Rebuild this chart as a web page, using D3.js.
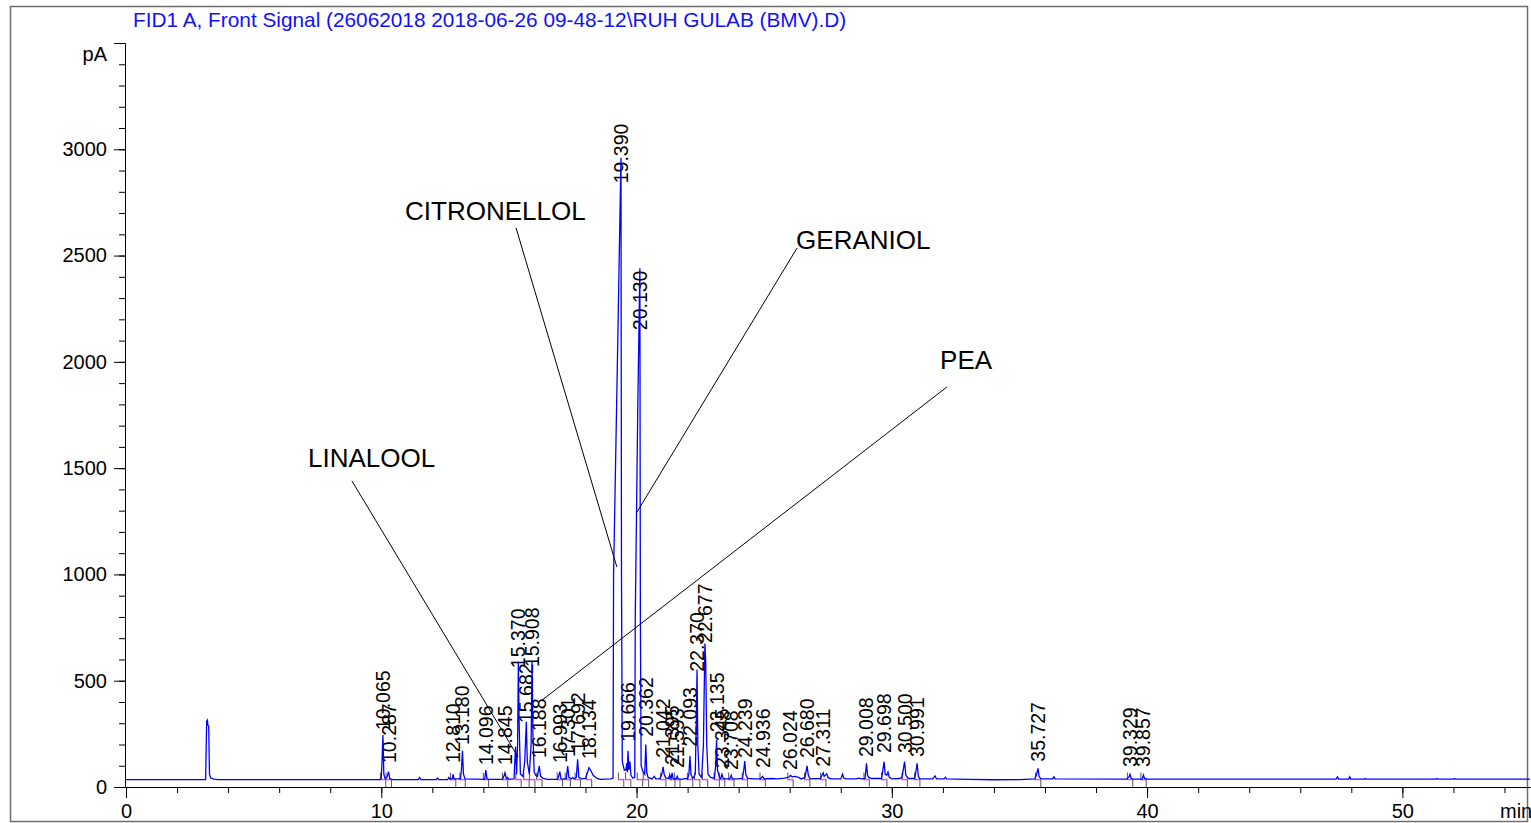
<!DOCTYPE html>
<html>
<head>
<meta charset="utf-8">
<script src="https://cdn.jsdelivr.net/npm/d3@7"></script>
<style>
  body { margin: 0; background: #fff; }
  text { font-family: "Liberation Sans", Arial, sans-serif; }
</style>
</head>
<body>
<div id="chart"></div>
<script>
// chromatogram trace, [time (min), signal (pA)]
const trace = [
  [0, 35], [3.12, 35], [3.16, 310], [3.19, 315], [3.21, 290], [3.24, 285], [3.27, 60], [3.32, 42], [3.45, 37], [3.6, 35],
  [9.95, 35], [10.0, 40], [10.03, 120], [10.065, 245], [10.1, 60], [10.15, 40], [10.22, 45], [10.287, 72], [10.33, 40], [10.45, 35],
  [11.45, 35], [11.5, 45], [11.55, 35], [12.15, 35], [12.2, 42], [12.25, 35],
  [12.6, 35], [12.65, 45], [12.7, 36], [12.78, 40], [12.81, 60], [12.85, 38], [13.1, 38], [13.14, 80], [13.18, 170], [13.22, 60], [13.28, 38],
  [14.05, 36], [14.096, 80], [14.14, 40], [14.2, 36],
  [14.75, 36], [14.8, 50], [14.845, 67], [14.9, 40], [14.95, 45], [15.0, 36],
  [15.2, 38], [15.26, 190], [15.3, 60], [15.34, 200], [15.37, 590], [15.4, 300], [15.45, 60], [15.55, 50], [15.62, 120], [15.682, 307],
  [15.72, 120], [15.8, 60], [15.87, 200], [15.908, 590], [15.94, 250], [15.99, 70], [16.05, 55], [16.12, 50], [16.188, 98], [16.24, 50],
  [16.35, 40], [16.5, 36],
  [16.9, 36], [16.95, 50], [16.993, 72], [17.04, 40], [17.1, 36], [17.25, 40], [17.301, 98], [17.35, 45], [17.45, 38], [17.5, 45],
  [17.55, 38], [17.64, 45], [17.692, 130], [17.74, 45], [17.85, 38], [18.0, 40], [18.1, 75], [18.134, 91], [18.2, 80], [18.3, 55],
  [18.45, 40], [18.6, 36],
  [19.0, 38], [19.08, 42], [19.1, 1000], [19.25, 2000], [19.39, 2960], [19.41, 1000], [19.44, 120], [19.52, 80], [19.58, 80],
  [19.62, 112], [19.64, 70], [19.666, 170], [19.7, 80], [19.74, 120], [19.78, 55], [19.85, 42], [19.93, 45], [19.95, 800],
  [20.05, 1800], [20.13, 2440], [20.15, 800], [20.18, 100], [20.26, 70], [20.32, 60], [20.362, 200], [20.4, 70], [20.45, 45],
  [20.6, 38], [20.7, 50], [20.75, 38],
  [20.9, 38], [20.98, 55], [21.042, 95], [21.08, 60], [21.15, 42], [21.25, 40], [21.3, 55], [21.35, 40], [21.395, 67], [21.43, 40],
  [21.55, 38], [21.593, 50], [21.63, 38], [21.8, 36], [21.9, 40], [22.0, 38], [22.05, 60], [22.093, 146], [22.13, 60], [22.2, 40],
  [22.3, 60], [22.34, 300], [22.37, 553], [22.4, 200], [22.45, 60], [22.55, 45], [22.62, 200], [22.677, 675], [22.71, 589],
  [22.75, 200], [22.8, 60], [22.9, 45], [23.05, 40], [23.1, 100], [23.135, 221], [23.17, 80], [23.25, 45], [23.3, 40], [23.345, 60],
  [23.4, 40], [23.5, 38], [23.65, 38], [23.708, 55], [23.75, 38], [24.0, 38], [24.15, 40], [24.2, 80], [24.239, 122], [24.28, 60],
  [24.35, 40], [24.6, 38], [24.85, 38], [24.936, 50], [25.0, 38], [25.3, 40], [25.5, 38], [25.8, 42], [26.0, 48], [26.024, 55],
  [26.1, 48], [26.2, 50], [26.35, 45], [26.45, 38], [26.6, 45], [26.68, 99], [26.73, 55], [26.8, 38], [27.2, 40], [27.311, 67],
  [27.35, 50], [27.45, 62], [27.5, 45], [27.6, 38], [28.0, 38], [28.07, 60], [28.12, 42], [28.2, 38], [28.6, 38], [28.7, 42],
  [28.8, 38], [28.95, 40], [29.008, 111], [29.05, 55], [29.1, 45], [29.2, 40], [29.6, 40], [29.698, 119], [29.74, 60], [29.8, 55],
  [29.85, 70], [29.9, 45], [30.0, 38], [30.3, 40], [30.4, 45], [30.5, 119], [30.55, 55], [30.65, 40], [30.9, 40], [30.991, 111],
  [31.04, 50], [31.1, 38], [31.6, 38], [31.69, 52], [31.75, 38], [32.05, 38], [32.1, 46], [32.15, 38], [33.0, 36], [34.0, 34],
  [35.0, 35], [35.6, 38], [35.66, 55], [35.727, 88], [35.77, 50], [35.85, 38], [36.3, 38], [36.35, 48], [36.4, 38],
  [39.2, 37], [39.3, 50], [39.329, 60], [39.38, 40], [39.45, 37], [39.8, 37], [39.857, 56], [39.9, 40], [40.0, 37],
  [47.4, 37], [47.46, 48], [47.5, 37], [47.9, 37], [47.94, 48], [47.98, 37], [48.5, 37], [48.54, 40], [48.58, 37],
  [51.3, 37], [51.34, 40], [51.38, 37], [52.0, 37], [52.04, 40], [52.08, 37], [55, 37]
];

// labelled peaks: retention time and the signal level the label starts from
const peakTimes = [10.065, 10.287, 12.810, 13.180, 14.096, 14.845, 15.370, 15.682, 15.908, 16.188, 16.993, 17.301, 17.692, 18.134,
  19.390, 19.666, 20.130, 20.362, 21.042, 21.395, 21.593, 22.093, 22.370, 22.677, 23.135, 23.345, 23.708, 24.239, 24.936,
  26.024, 26.680, 27.311, 29.008, 29.698, 30.500, 30.991, 35.727, 39.329, 39.857];
const labelLevels = [268, 113, 113, 197, 103, 103, 559, 301, 564, 136, 113, 141, 165, 132,
  2840, 213, 2149, 236, 136, 103, 89, 189, 542, 677, 258, 89, 80, 136, 89,
  80, 136, 95, 141, 160, 160, 141, 119, 94, 94];
const baselineLevel = 35;

// compound names with callout lines (time, pA)
const compounds = ["LINALOOL", "CITRONELLOL", "GERANIOL", "PEA"];
const compoundText = [[7.13, 1505], [10.93, 2667], [26.25, 2531], [31.89, 1966]];
const compoundLineFrom = [[8.85, 1440], [15.28, 2630], [26.29, 2536], [32.16, 1882]];
const compoundLineTo = [[15.36, 141], [19.23, 1035], [20.02, 1294], [16.26, 405]];

const xMajor = [0, 10, 20, 30, 40, 50];
const yMajor = [0, 500, 1000, 1500, 2000, 2500, 3000, 3500];
const title = "FID1 A, Front Signal (26062018 2018-06-26 09-48-12\\RUH GULAB (BMV).D)";

const width = 1531, height = 823;
const svg = d3.select("#chart").append("svg")
  .attr("width", width).attr("height", height);

const x = d3.scaleLinear().domain([0, 55]).range([126, 1530]);
const y = d3.scaleLinear().domain([0, 3500]).range([787, 43]);

// frame
svg.append("rect")
  .attr("x", 10.5).attr("y", 6.5).attr("width", 1517).attr("height", 815)
  .attr("fill", "none").attr("stroke", "#6e6e6e").attr("stroke-width", 1.5);

// title
svg.append("text")
  .attr("x", 133).attr("y", 27)
  .attr("font-size", 20.8).attr("fill", "#1010ff")
  .text(title);

// x axis
const xMinor = svg.append("g").attr("transform", `translate(0,${y(0)})`)
  .call(d3.axisBottom(x).tickValues(d3.range(0, 55.1, 2)).tickSize(6).tickSizeOuter(0).tickFormat(""));
const xAx = svg.append("g").attr("transform", `translate(0,${y(0)})`)
  .call(d3.axisBottom(x).tickValues(xMajor).tickSize(11).tickSizeOuter(0));
xAx.selectAll("text").attr("y", 31).attr("dy", 0).attr("font-size", 20).attr("fill", "#000");
svg.append("text").attr("x", 1500).attr("y", y(0) + 31).attr("font-size", 20).text("min");

// y axis
svg.append("g").attr("transform", `translate(${x(0) - 1},0)`)
  .call(d3.axisLeft(y).tickValues(d3.range(0, 3501, 100)).tickSize(6).tickSizeOuter(0).tickFormat(""));
const yAx = svg.append("g").attr("transform", `translate(${x(0) - 1},0)`)
  .call(d3.axisLeft(y).tickValues(yMajor).tickSize(11).tickSizeOuter(0)
    .tickFormat(d => d === 3500 ? "" : d));
yAx.selectAll("text").attr("x", -18).attr("font-size", 20).attr("fill", "#000");
svg.append("text").attr("x", 107).attr("y", 61).attr("text-anchor", "end")
  .attr("font-size", 20).text("pA");
svg.selectAll(".domain, .tick line").attr("stroke", "#000");

// integration baselines and peak markers
svg.append("g").selectAll("line").data(peakTimes).join("line")
  .attr("x1", d => x(d - 0.12)).attr("x2", d => x(d + 0.12))
  .attr("y1", y(baselineLevel)).attr("y2", y(baselineLevel))
  .attr("stroke", "#ff40ff").attr("stroke-width", 1.5);
svg.append("g").selectAll("line").data(peakTimes).join("line")
  .attr("x1", d => x(d + 0.11)).attr("x2", d => x(d + 0.11))
  .attr("y1", y(baselineLevel)).attr("y2", y(0))
  .attr("stroke", "#555").attr("stroke-width", 1);
svg.append("g").selectAll("line").data(peakTimes).join("line")
  .attr("x1", d => x(d - 0.1)).attr("x2", d => x(d - 0.1))
  .attr("y1", y(baselineLevel) - 7).attr("y2", y(baselineLevel))
  .attr("stroke", "#555").attr("stroke-width", 1);

// peak labels
svg.append("g").selectAll("text").data(peakTimes).join("text")
  .attr("transform", (d, i) => `translate(${x(d) + 7},${y(labelLevels[i])}) rotate(-90)`)
  .attr("font-size", 19.5).attr("fill", "#000")
  .text(d => d.toFixed(3));

// signal
svg.append("path")
  .datum(trace)
  .attr("fill", "none")
  .attr("stroke", "#0000ff")
  .attr("stroke-width", 1.3)
  .attr("d", d3.line().x(d => x(d[0])).y(d => y(d[1])));

// compound callouts
compounds.forEach((name, i) => {
  svg.append("line")
    .attr("x1", x(compoundLineFrom[i][0])).attr("y1", y(compoundLineFrom[i][1]))
    .attr("x2", x(compoundLineTo[i][0])).attr("y2", y(compoundLineTo[i][1]))
    .attr("stroke", "#000").attr("stroke-width", 1);
  svg.append("text")
    .attr("x", x(compoundText[i][0])).attr("y", y(compoundText[i][1]))
    .attr("font-size", 26).attr("fill", "#000")
    .text(name);
});
</script>
</body>
</html>
